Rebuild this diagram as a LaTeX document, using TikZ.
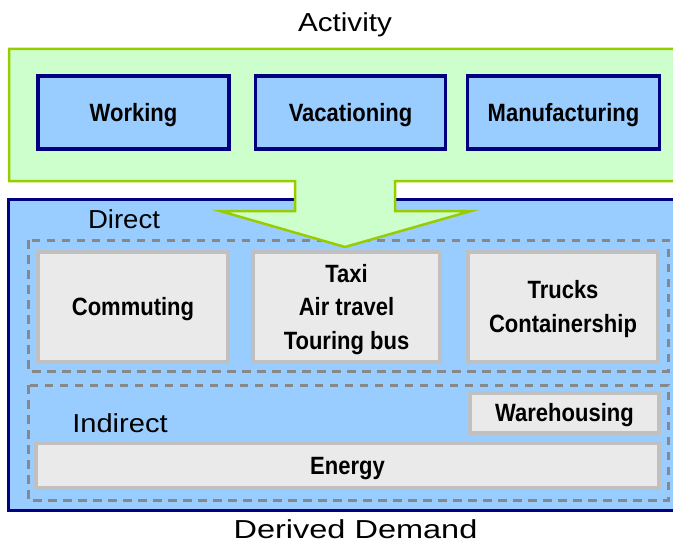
\documentclass[tikz,border=0pt]{standalone}
\usepackage{fontspec}
\usepackage{graphicx}
\setmainfont{Liberation Sans}
\definecolor{lgreen}{HTML}{CCFFCC}
\definecolor{dgreen}{HTML}{99CC00}
\definecolor{lblue}{HTML}{99CCFF}
\definecolor{navyb}{HTML}{000080}
\definecolor{lgray}{HTML}{EAEAEA}
\definecolor{mgray}{HTML}{C0C0C0}
\definecolor{dgray}{HTML}{888888}
\newcommand{\boxtext}[1]{\raisebox{-2pt}[\height][\depth]{\scalebox{0.88}[1]{\begin{tabular}{@{}c@{}}#1\end{tabular}}}}
\newcommand{\widetext}[2]{\scalebox{#1}[1]{#2}}
\begin{document}
\begin{tikzpicture}[x=1pt,y=-1pt,
  actbox/.style={draw=navyb,fill=lblue,line width=3.5pt,minimum height=73pt,inner sep=0pt,
    font=\fontsize{25}{34}\selectfont\bfseries},
  graybox/.style={draw=mgray,fill=lgray,line width=3.5pt,inner sep=0pt,align=center,
    font=\fontsize{25}{33.5}\selectfont\bfseries},
  dashbox/.style={draw=dgray,line width=3pt,dash pattern=on 8.5pt off 6.5pt},
  lbl/.style={inner sep=0pt,anchor=base,font=\fontsize{26}{30}\selectfont}]
\useasboundingbox (0,0) rectangle (673,543);
\clip (0,0) rectangle (673,543);
% big blue box
\draw[draw=navyb,fill=lblue,line width=3pt] (8,199) rectangle (690,510);
% dashed groups
\draw[dashbox] (28,240) rectangle (668,371);
\draw[dashbox] (28,385) rectangle (668,500);
% green activity shape with arrow
\draw[draw=dgreen,fill=lgreen,line width=2.5pt,line join=miter]
  (9,49) -- (690,49) -- (690,181) -- (395,181) -- (395,211) -- (471,211)
  -- (345,247) -- (220,211) -- (295,211) -- (295,181) -- (9,181) -- cycle;
% activity boxes
\node[actbox,minimum width=191pt] (work) at (133.5,112.5) {\boxtext{Working}};
\node[actbox,minimum width=190pt] (vac) at (350.5,112.5) {\boxtext{Vacationing}};
\node[actbox,minimum width=192pt] (manu) at (563.5,112.5) {\boxtext{Manufacturing}};
% direct boxes
\node[graybox,minimum width=190pt,minimum height=110pt] (comm) at (133,307) {\boxtext{Commuting}};
\node[graybox,minimum width=187pt,minimum height=110pt] (taxi) at (346.5,307) {\boxtext{Taxi\\Air travel\\Touring bus}};
\node[graybox,minimum width=190pt,minimum height=110pt] (truck) at (563,307) {\boxtext{Trucks\\Containership}};
% indirect boxes
\node[graybox,minimum width=189pt,minimum height=40pt] (ware) at (564.5,413) {\boxtext{Warehousing}};
\node[graybox,minimum width=623pt,minimum height=45pt] (energy) at (347.5,465.5) {\boxtext{Energy}};
% labels
\node[lbl] (act) at (345,32) {\widetext{1.14}{Activity}};
\node[lbl] (dir) at (124,228) {\widetext{1.06}{Direct}};
\node[lbl] (ind) at (120,432) {\widetext{1.12}{Indirect}};
\node[lbl] (der) at (355.5,538) {\widetext{1.25}{Derived Demand}};
\end{tikzpicture}
\end{document}
